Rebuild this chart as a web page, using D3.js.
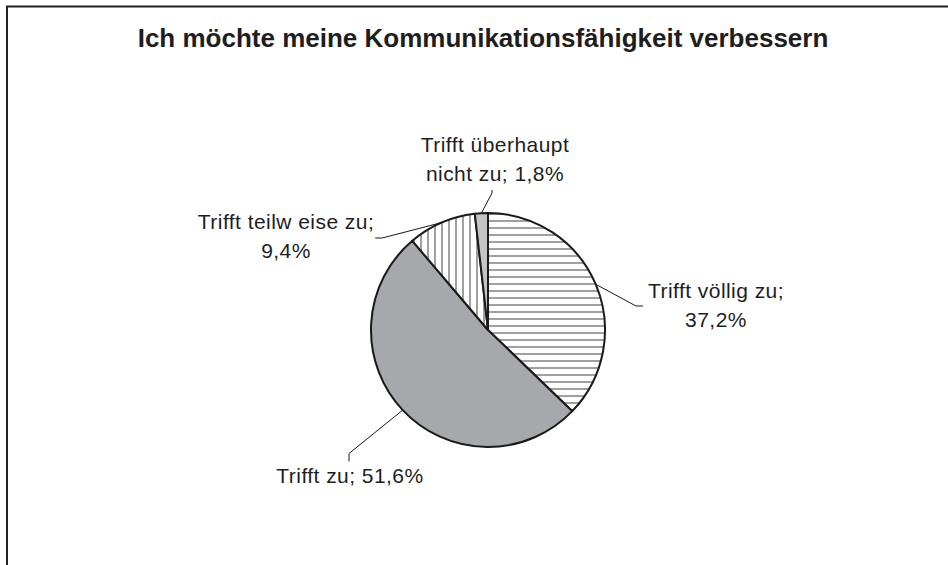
<!DOCTYPE html>
<html>
<head>
<meta charset="utf-8">
<script src="https://cdn.jsdelivr.net/npm/d3@7"></script>
<style>
  html, body { margin: 0; padding: 0; background: #fff; }
  text { font-family: "Liberation Sans", Arial, sans-serif; fill: #1e1e1e; }
  .title { font-size: 26px; font-weight: bold; }
  .slice-label { font-size: 21px; letter-spacing: 0.45px; }
</style>
</head>
<body>
<svg id="chart" width="948" height="565"></svg>
<script>
// chart data
var titleText = 'Ich möchte meine Kommunikationsfähigkeit verbessern';
var categories = ['Trifft völlig zu', 'Trifft zu', 'Trifft teilweise zu', 'Trifft überhaupt nicht zu'];
var shares = [37.2, 51.6, 9.4, 1.8];
var labelLines = [
  ['Trifft völlig zu;', '37,2%'],
  ['Trifft zu; 51,6%'],
  ['Trifft teilw eise zu;', '9,4%'],
  ['Trifft überhaupt', 'nicht zu; 1,8%']
];

(function () {
var svg = d3.select('#chart');
var width = +svg.attr('width');
var height = +svg.attr('height');

var cx = 488, cy = 330, radius = 117;
var lineGap = 29;

// where the label blocks sit (center x, middle y) and which side the leader hits
var labelLayout = [
  {x: 716, y: 306, side: 'left'},
  {x: 350, y: 476, side: 'top'},
  {x: 286, y: 237, side: 'right'},
  {x: 495, y: 160, side: 'bottom'}
];

var defs = svg.append('defs');

var hPat = defs.append('pattern')
  .attr('id', 'hstripe')
  .attr('patternUnits', 'userSpaceOnUse')
  .attr('width', 7).attr('height', 7);
hPat.append('rect').attr('width', 7).attr('height', 7).attr('fill', '#fff');
hPat.append('rect').attr('y', 2).attr('width', 7).attr('height', 2).attr('fill', '#a0a0a0');

var vPat = defs.append('pattern')
  .attr('id', 'vstripe')
  .attr('patternUnits', 'userSpaceOnUse')
  .attr('width', 7).attr('height', 7);
vPat.append('rect').attr('width', 7).attr('height', 7).attr('fill', '#fff');
vPat.append('rect').attr('x', 2).attr('width', 2).attr('height', 7).attr('fill', '#a0a0a0');

var fills = d3.scaleOrdinal()
  .domain(categories)
  .range(['url(#hstripe)', '#a7a8ab', 'url(#vstripe)', '#c4c4c4']);

// frame
svg.append('path')
  .attr('d', `M7,${height} L7,6.5 L${width},6.5`)
  .attr('fill', 'none')
  .attr('stroke', '#222')
  .attr('stroke-width', 2);

svg.append('text')
  .attr('class', 'title')
  .attr('x', 483)
  .attr('y', 47)
  .attr('text-anchor', 'middle')
  .text(titleText);

var rows = categories.map(function(c, i) {
  return {name: c, value: shares[i], lines: labelLines[i], layout: labelLayout[i]};
});

var pie = d3.pie()
  .sort(null)
  .value(function(d) { return d.value; });

var arc = d3.arc().innerRadius(0).outerRadius(radius);
var edgeArc = d3.arc().innerRadius(radius).outerRadius(radius);

var arcs = pie(rows);

var pieG = svg.append('g').attr('transform', `translate(${cx},${cy})`);

pieG.selectAll('.slice')
  .data(arcs)
  .enter()
  .append('path')
  .attr('class', 'slice')
  .attr('d', arc)
  .attr('fill', function(d) { return fills(d.data.name); })
  .attr('stroke', '#1a1a1a')
  .attr('stroke-width', 2)
  .attr('stroke-linejoin', 'round');

// labels
var labelG = svg.append('g').attr('class', 'labels');

arcs.forEach(function(d) {
  var lay = d.data.layout;
  var n = d.data.lines.length;
  var blockH = n * lineGap;
  var firstBase = lay.y - blockH / 2 + lineGap - 8;

  var t = labelG.append('text')
    .attr('class', 'slice-label')
    .attr('text-anchor', 'middle');
  d.data.lines.forEach(function(line, j) {
    t.append('tspan')
      .attr('x', lay.x)
      .attr('y', firstBase + j * lineGap)
      .text(line);
  });

  var box = t.node().getBBox();
  var edge = edgeArc.centroid(d);
  var start = [cx + edge[0], cy + edge[1]];
  var end, elbow;
  if (lay.side === 'left') {
    end = [box.x - 5, lay.y];
    elbow = [end[0] - 7, end[1]];
  } else if (lay.side === 'right') {
    end = [box.x + box.width + 1, lay.y + 1];
    elbow = [end[0] + 7, end[1]];
  } else if (lay.side === 'top') {
    end = [lay.x - 1, box.y - 2];
    elbow = [end[0], end[1] - 8];
  } else {
    end = [lay.x - 3, box.y + box.height + 5];
    elbow = [end[0], end[1] + 3];
  }

  labelG.append('path')
    .attr('d', d3.line()([start, elbow, end]))
    .attr('fill', 'none')
    .attr('stroke', '#1a1a1a')
    .attr('stroke-width', 1);
});
})();
</script>
</body>
</html>
